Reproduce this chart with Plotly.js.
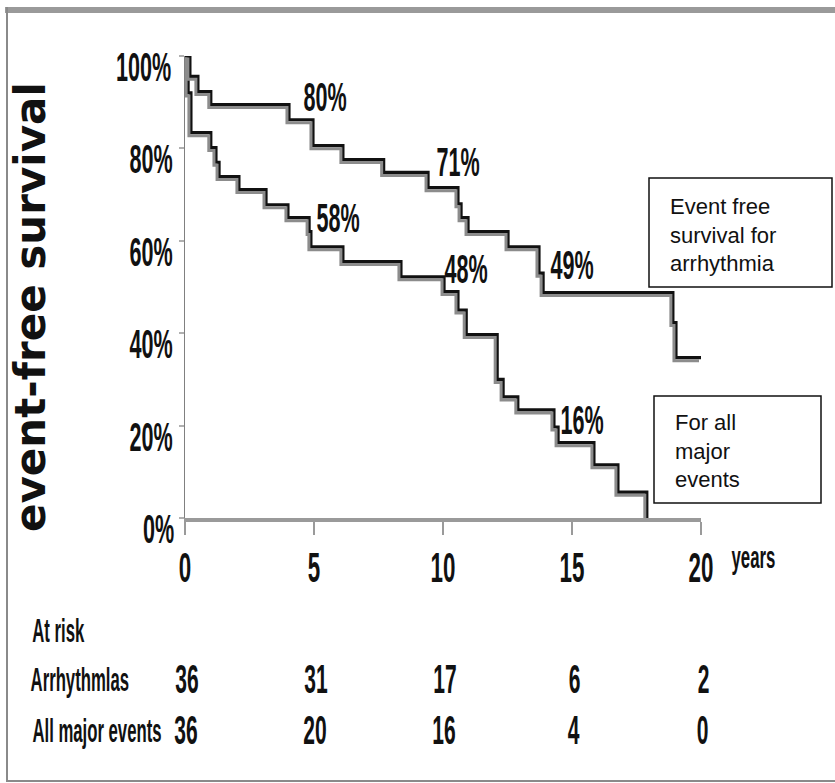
<!DOCTYPE html>
<html>
<head>
<meta charset="utf-8">
<script src="https://cdn.plot.ly/plotly-3.0.1.min.js"></script>
<style>
  html, body { margin: 0; padding: 0; background: #ffffff; }
  #chart { width: 835px; height: 783px; }
</style>
</head>
<body>
<div id="chart"></div>
<script>
// ---- data ----
var arrYears = [0, 0.19, 0.5, 1.0, 4.03, 4.96, 6.12, 7.7, 9.42, 10.58, 10.7, 10.97, 12.52, 13.72, 13.88, 18.91, 19.03, 20];
var arrSurv  = [100, 95.6, 92.3, 89.5, 86.2, 80.6, 77.6, 74.8, 71.5, 68, 65, 62.0, 58.7, 53, 48.8, 42.3, 34.7, 34.7];

var allYears = [0, 0.12, 0.23, 1.0, 1.2, 1.32, 2.09, 3.14, 3.99, 4.81, 4.88, 6.12, 8.37, 10.04, 10.58, 10.9, 12.1, 12.33, 12.9, 14.3, 14.46, 15.85, 16.78, 17.9];
var allSurv  = [100, 92, 83.4, 80.2, 77, 73.9, 71.1, 67.8, 65.0, 62, 58.7, 55.5, 52.2, 49.0, 45, 39.7, 30, 26.2, 23.4, 19.7, 16.3, 11.5, 5.6, 0];

var xTicks = [0, 5, 10, 15, 20];
var xTickLabels = ['0', '5', '10', '15', '20'];
var yTicks = [0, 20, 40, 60, 80, 100];
var yTickLabels = ['0%', '20%', '40%', '60%', '80%', '100%'];

var atRiskYears = [0, 5, 10, 15, 20];
var atRiskArrhythmia = [36, 31, 17, 6, 2];
var atRiskAllEvents = [36, 20, 16, 4, 0];
var rowLabels = ['At risk', 'Arrhythmlas', 'All major events'];

var curveLabels = ['80%', '71%', '49%', '35%', '58%', '48%', '16%'];
var boxTexts = ['Event free<br>survival for<br>arrhythmia', 'For all<br>major<br>events'];

// ---- layout geometry (pixels) ----
var W = 835, H = 783;
var L = 185, R = 701, T = 56, B = 518;
function px(xp) { return (xp - L) / (R - L); }
function py(yp) { return (B - yp) / (B - T); }

var sans = '"Liberation Sans", Arial, sans-serif';
var SY = 1.5;   // tall, condensed look of the scanned labels

var shadowDx = 2 / ((R - L) / 20);
var shadowDy = 3 / ((B - T) / 100);

var traces = [
  {x: arrYears, y: arrSurv, mode: 'lines', line: {shape: 'hv', color: '#8c8c8c', width: 3},
   xaxis: 'x2', yaxis: 'y2', hoverinfo: 'skip', showlegend: false, cliponaxis: false},
  {x: allYears, y: allSurv, mode: 'lines', line: {shape: 'hv', color: '#8c8c8c', width: 3},
   xaxis: 'x2', yaxis: 'y2', hoverinfo: 'skip', showlegend: false, cliponaxis: false},
  {x: arrYears, y: arrSurv, mode: 'lines', name: 'Arrhythmia',
   line: {shape: 'hv', color: '#111111', width: 3.2}, showlegend: false, cliponaxis: false},
  {x: allYears, y: allSurv, mode: 'lines', name: 'All major events',
   line: {shape: 'hv', color: '#111111', width: 3.2}, showlegend: false, cliponaxis: false}
];

var annotations = [];
var narrow = [];   // [annotation index, x scale]
function addNarrow(a, sx) { narrow.push([annotations.length, sx]); annotations.push(a); }

var numFont = {family: sans, size: 27, color: '#111', weight: 'bold'};

// curve percentage labels
var labelPos = [[5.43, 91.2], [10.58, 77.1], [15.0, 54.8], [20.19, 40.1], [5.93, 65.0], [10.89, 53.96], [15.39, 21.2]];
curveLabels.forEach(function (t, i) {
  addNarrow({x: labelPos[i][0], y: labelPos[i][1], xref: 'x', yref: 'y', text: t, showarrow: false,
    font: numFont, xanchor: 'center', yanchor: 'middle'}, 0.8);
});
// y axis title
annotations.push({x: px(30), y: py(307), xref: 'paper', yref: 'paper', text: 'event-free survival',
  textangle: -90, showarrow: false, font: {family: '"DejaVu Sans", sans-serif', size: 42, color: '#111', weight: 'bold'},
  xanchor: 'center', yanchor: 'middle'});
// years
addNarrow({x: px(753), y: py(556), xref: 'paper', yref: 'paper', text: 'years', showarrow: false,
  font: {family: sans, size: 21, color: '#111', weight: 'bold'}, xanchor: 'center', yanchor: 'middle'}, 0.8);
// box texts
annotations.push({x: px(668), y: py(235), xref: 'paper', yref: 'paper', text: boxTexts[0], showarrow: false,
  align: 'left', font: {family: sans, size: 22, color: '#111'}, xanchor: 'left', yanchor: 'middle'});
annotations.push({x: px(673), y: py(451), xref: 'paper', yref: 'paper', text: boxTexts[1], showarrow: false,
  align: 'left', font: {family: sans, size: 22, color: '#111'}, xanchor: 'left', yanchor: 'middle'});
// at-risk table
var rowY = [630, 679, 730];
var rowCx = [58, 80, 97];
rowLabels.forEach(function (t, i) {
  addNarrow({x: px(rowCx[i]), y: py(rowY[i]), xref: 'paper', yref: 'paper', text: t, showarrow: false,
    font: {family: sans, size: 22, color: '#111', weight: 'bold'}, xanchor: 'center', yanchor: 'middle'}, 0.76);
});
atRiskYears.forEach(function (yr, i) {
  addNarrow({x: yr, y: py(rowY[1]), xref: 'x', yref: 'paper', text: String(atRiskArrhythmia[i]), showarrow: false,
    font: numFont, xanchor: 'center', yanchor: 'middle', xshift: 2}, 0.78);
  addNarrow({x: yr, y: py(rowY[2]), xref: 'x', yref: 'paper', text: String(atRiskAllEvents[i]), showarrow: false,
    font: numFont, xanchor: 'center', yanchor: 'middle', xshift: 1}, 0.78);
});

var shapes = [
  // outer frame
  {type: 'rect', xref: 'paper', yref: 'paper', x0: px(5), x1: px(840), y0: py(7), y1: py(13), fillcolor: '#9a9a9a', line: {width: 0}, layer: 'below'},
  {type: 'line', xref: 'paper', yref: 'paper', x0: px(7), x1: px(7), y0: py(7), y1: py(781), line: {color: '#8a8a8a', width: 2}},
  {type: 'line', xref: 'paper', yref: 'paper', x0: px(6), x1: px(840), y0: py(781), y1: py(781), line: {color: '#8a8a8a', width: 2}},
  // legend boxes
  {type: 'rect', xref: 'paper', yref: 'paper', x0: px(649), x1: px(832), y0: py(178), y1: py(287), line: {color: '#111', width: 1.5}, fillcolor: 'rgba(0,0,0,0)'},
  {type: 'rect', xref: 'paper', yref: 'paper', x0: px(654), x1: px(821), y0: py(396), y1: py(503), line: {color: '#111', width: 1.5}, fillcolor: 'rgba(0,0,0,0)'}
];

var layout = {
  width: W, height: H,
  margin: {l: L, r: W - R, t: T, b: H - B, pad: 0},
  paper_bgcolor: '#ffffff', plot_bgcolor: '#ffffff',
  showlegend: false,
  xaxis: {
    range: [0, 20], tickvals: xTicks, ticktext: xTickLabels, showgrid: false, zeroline: false,
    showline: true, linecolor: '#9a9a9a', linewidth: 4,
    ticks: 'outside', ticklen: 13, tickwidth: 1.5, tickcolor: '#9a9a9a',
    tickfont: {family: sans, size: 28, color: '#111', weight: 'bold'}, ticklabelstandoff: 9, fixedrange: true
  },
  yaxis: {
    range: [0, 100], tickvals: yTicks, ticktext: yTickLabels, showgrid: false, zeroline: false,
    showline: true, linecolor: '#808080', linewidth: 1.5,
    ticks: 'outside', ticklen: 5, tickwidth: 2, tickcolor: '#b0b0b0',
    tickfont: {family: sans, size: 27, color: '#111', weight: 'bold'}, ticklabelshift: 11, ticklabelstandoff: 0, fixedrange: true
  },
  xaxis2: {range: [shadowDx, 20 + shadowDx], overlaying: 'x', visible: false, fixedrange: true},
  yaxis2: {range: [shadowDy, 100 + shadowDy], overlaying: 'y', visible: false, fixedrange: true},
  annotations: annotations,
  shapes: shapes
};

// Give the scanned-looking labels their tall, condensed shape (text stays real text).
function squeeze(el, sx, sy, dx) {
  var t = el.getAttribute('transform') || '';
  var tx = 0, ty = 0;
  var re = /translate\(([^)]*)\)/g, m;
  while ((m = re.exec(t))) {
    var p = m[1].split(/[\s,]+/).filter(function (s) { return s.length; }).map(Number);
    tx += p[0] || 0; ty += p[1] || 0;
  }
  el.style.transformBox = 'fill-box';
  el.style.transformOrigin = 'center';
  el.style.transform = 'translate(' + (tx + (dx || 0)) + 'px,' + ty + 'px) scale(' + sx + ',' + sy + ')';
}

Plotly.newPlot('chart', traces, layout, {displayModeBar: false, staticPlot: true}).then(function (gd) {
  gd.querySelectorAll('.xtick text').forEach(function (el) { squeeze(el, 0.8, SY, 0); });
  gd.querySelectorAll('.ytick text').forEach(function (el) { squeeze(el, 0.8, SY, 5); });
  narrow.forEach(function (n) {
    var g = gd.querySelector('.annotation[data-index="' + n[0] + '"]');
    if (g) g.querySelectorAll('text').forEach(function (el) { squeeze(el, n[1], SY, 0); });
  });
});
</script>
</body>
</html>
